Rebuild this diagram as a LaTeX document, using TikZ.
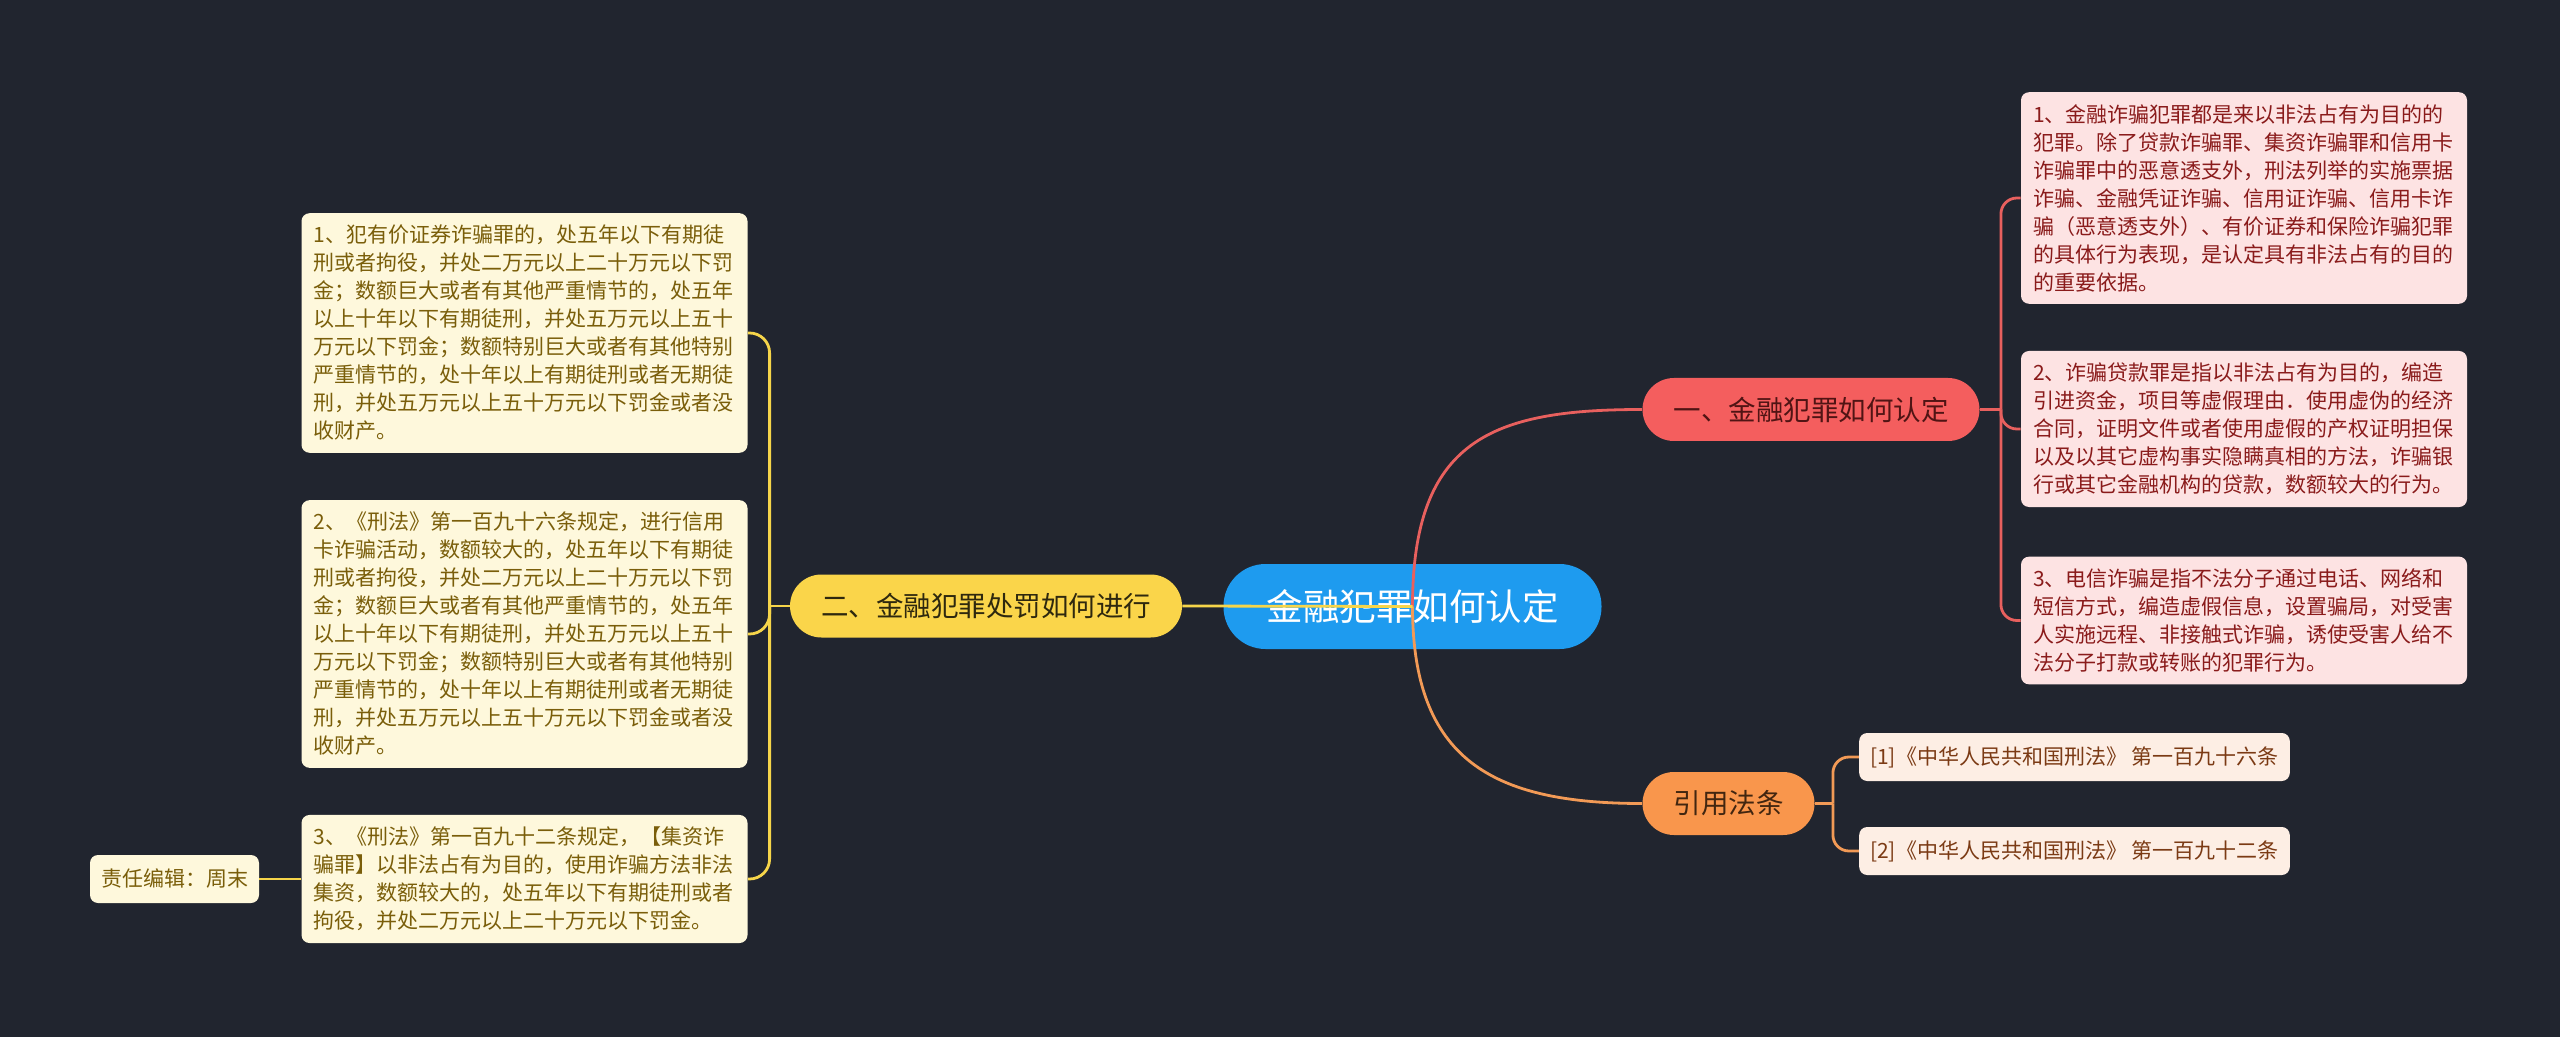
\documentclass[tikz,border=0pt]{standalone}
\usepackage{fontspec}
\setmainfont{Noto Sans CJK SC}

\definecolor{bgdark}{HTML}{21252F}
\definecolor{rootblue}{HTML}{1E9BEF}
\definecolor{redfill}{HTML}{F45E5E}
\definecolor{yellowfill}{HTML}{FAD54A}
\definecolor{orangefill}{HTML}{F9964C}
\definecolor{pinkleaf}{HTML}{FDE3E3}
\definecolor{creamleaf}{HTML}{FEF8DC}
\definecolor{peachleaf}{HTML}{FDEEE4}
\definecolor{redtext}{HTML}{8A1B1B}
\definecolor{olivetext}{HTML}{7A5E0A}
\definecolor{browntext}{HTML}{7B3A14}
\definecolor{redline}{HTML}{E8605E}
\definecolor{yellowline}{HTML}{F6D54A}
\definecolor{orangeline}{HTML}{F29A56}

\tikzset{
  rootpill/.style={fill=rootblue, text=white, rounded corners=21pt,
    minimum height=42.5pt, inner xsep=21.5pt, font=\fontsize{18.25}{20}\selectfont},
  pill/.style={rounded corners=15.75pt, minimum height=31.5pt, inner xsep=15.5pt,
    font=\fontsize{13.75}{16}\selectfont},
  leaf/.style={rounded corners=4pt, align=left, text width=211pt, inner xsep=6pt,
    inner ysep=6pt, font=\fontsize{10.5}{14}\selectfont},
  small/.style={rounded corners=4pt, minimum height=24pt, inner xsep=5.5pt,
    font=\fontsize{10.5}{14}\selectfont},
  wire/.style={line width=1.4pt},
}

\begin{document}
\begin{tikzpicture}[x=0.5pt,y=-0.5pt]
    \fill[bgdark] (0,0) rectangle (2560,1037);

    \node[rootpill] (root) at (1412.5,606.5) {金融犯罪如何认定};
    \node[pill, fill=redfill, text={rgb,255:red,80;green,20;blue,20}] (b1) at (1811,409.5) {一、金融犯罪如何认定};
    \node[pill, fill=yellowfill, text={rgb,255:red,46;green,40;blue,14}] (b2) at (986,606) {二、金融犯罪处罚如何进行};
    \node[pill, fill=orangefill, text={rgb,255:red,66;green,38;blue,16}] (b3) at (1728.5,803.5) {引用法条};

    \node[leaf, fill=pinkleaf, text=redtext] (r1) at (2244,198) {1、金融诈骗犯罪都是来以非法占有为目的的\\犯罪。除了贷款诈骗罪、集资诈骗罪和信用卡\\诈骗罪中的恶意透支外，刑法列举的实施票据\\诈骗、金融凭证诈骗、信用证诈骗、信用卡诈\\骗（恶意透支外）、有价证券和保险诈骗犯罪\\的具体行为表现，是认定具有非法占有的目的\\的重要依据。};
    \node[leaf, fill=pinkleaf, text=redtext] (r2) at (2244,429) {2、诈骗贷款罪是指以非法占有为目的，编造\\引进资金，项目等虚假理由．使用虚伪的经济\\合同，证明文件或者使用虚假的产权证明担保\\以及以其它虚构事实隐瞒真相的方法，诈骗银\\行或其它金融机构的贷款，数额较大的行为。};
    \node[leaf, fill=pinkleaf, text=redtext] (r3) at (2244,620.5) {3、电信诈骗是指不法分子通过电话、网络和\\短信方式，编造虚假信息，设置骗局，对受害\\人实施远程、非接触式诈骗，诱使受害人给不\\法分子打款或转账的犯罪行为。};

    \node[small, fill=peachleaf, text=browntext] (l1) at (2074.5,757) {[1]《中华人民共和国刑法》 第一百九十六条};
    \node[small, fill=peachleaf, text=browntext] (l2) at (2074.5,851) {[2]《中华人民共和国刑法》 第一百九十二条};

    \node[leaf, fill=creamleaf, text=olivetext] (y1) at (524.5,333) {1、犯有价证券诈骗罪的，处五年以下有期徒\\刑或者拘役，并处二万元以上二十万元以下罚\\金；数额巨大或者有其他严重情节的，处五年\\以上十年以下有期徒刑，并处五万元以上五十\\万元以下罚金；数额特别巨大或者有其他特别\\严重情节的，处十年以上有期徒刑或者无期徒\\刑，并处五万元以上五十万元以下罚金或者没\\收财产。};
    \node[leaf, fill=creamleaf, text=olivetext] (y2) at (524.5,634) {2、《刑法》第一百九十六条规定，进行信用\\卡诈骗活动，数额较大的，处五年以下有期徒\\刑或者拘役，并处二万元以上二十万元以下罚\\金；数额巨大或者有其他严重情节的，处五年\\以上十年以下有期徒刑，并处五万元以上五十\\万元以下罚金；数额特别巨大或者有其他特别\\严重情节的，处十年以上有期徒刑或者无期徒\\刑，并处五万元以上五十万元以下罚金或者没\\收财产。};
    \node[leaf, fill=creamleaf, text=olivetext] (y3) at (524.5,879) {3、《刑法》第一百九十二条规定，【集资诈\\骗罪】以非法占有为目的，使用诈骗方法非法\\集资，数额较大的，处五年以下有期徒刑或者\\拘役，并处二万元以上二十万元以下罚金。};
    \node[small, fill=creamleaf, text=olivetext] (ed) at (174.5,879) {责任编辑：周末};

    \coordinate (jl) at ([xshift=-10pt]b2.west);
    \coordinate (jr) at ([xshift=10.5pt]b1.east);
    \coordinate (jc) at ([xshift=9pt]b3.east);

    \draw[wire, redline] (root.center) .. controls +(0,-167) and +(-150,0) .. (b1.west);
    \draw[wire, orangeline] (root.center) .. controls +(0,153) and +(-150,0) .. (b3.west);
    \draw[wire, yellowline] (root.center) -- (b2.east);

    \draw[wire, yellowline] (b2.west) -- (jl);
    \draw[wire, yellowline, rounded corners=10pt] (jl) |- (y1.east);
    \draw[wire, yellowline, rounded corners=10pt] (jl) |- (y2.east);
    \draw[wire, yellowline, rounded corners=10pt] (jl) |- (y3.east);
    \draw[wire, yellowline] (y3.west) -- (ed.east);

    \draw[wire, redline] (b1.east) -- (jr);
    \draw[wire, redline, rounded corners=8pt] (jr) |- (r1.west);
    \draw[wire, redline, rounded corners=8pt] (jr) |- (r2.west);
    \draw[wire, redline, rounded corners=8pt] (jr) |- (r3.west);

    \draw[wire, orangeline] (b3.east) -- (jc);
    \draw[wire, orangeline, rounded corners=8pt] (jc) |- (l1.west);
    \draw[wire, orangeline, rounded corners=8pt] (jc) |- (l2.west);
\end{tikzpicture}
\end{document}
